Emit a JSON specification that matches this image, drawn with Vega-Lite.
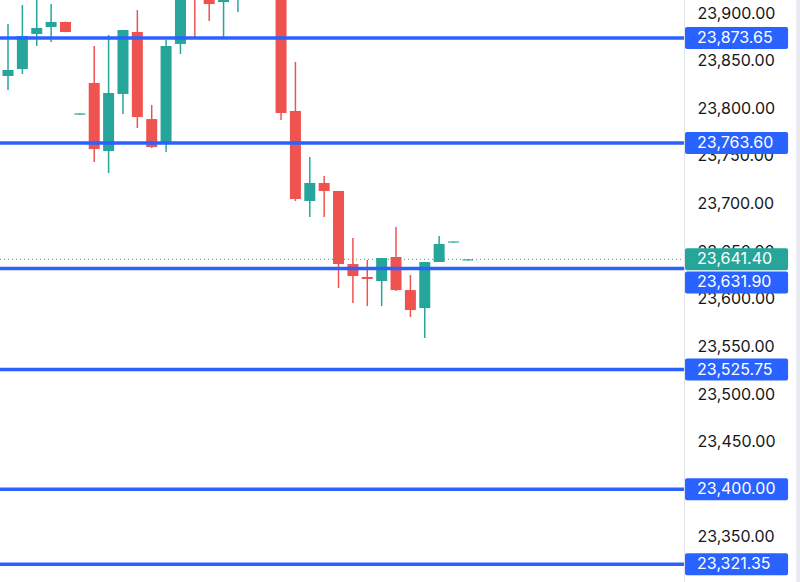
{
  "$schema": "https://vega.github.io/schema/vega-lite/v6.json",
  "width": 800,
  "height": 582,
  "padding": 0,
  "autosize": {"type": "none"},
  "background": "#ffffff",
  "config": {"view": {"stroke": null}},
  "datasets": {
    "candles": [
      {"i": 0, "open": 23833.9, "high": 23888.5, "low": 23819.2, "close": 23840.2},
      {"i": 1, "open": 23841.2, "high": 23908.4, "low": 23836.0, "close": 23875.9},
      {"i": 2, "open": 23878.0, "high": 23920.0, "low": 23865.4, "close": 23884.3},
      {"i": 3, "open": 23885.3, "high": 23909.4, "low": 23869.6, "close": 23890.6},
      {"i": 4, "open": 23890.6, "high": 23891.0, "low": 23879.8, "close": 23880.1},
      {"i": 5, "open": 23793.3, "high": 23794.6, "low": 23793.3, "close": 23794.6},
      {"i": 6, "open": 23826.5, "high": 23865.4, "low": 23743.6, "close": 23757.2},
      {"i": 7, "open": 23755.1, "high": 23876.9, "low": 23732.0, "close": 23816.0},
      {"i": 8, "open": 23815.0, "high": 23882.2, "low": 23794.0, "close": 23882.2},
      {"i": 9, "open": 23880.1, "high": 23903.1, "low": 23779.3, "close": 23790.8},
      {"i": 10, "open": 23788.7, "high": 23803.4, "low": 23758.3, "close": 23759.3},
      {"i": 11, "open": 23762.5, "high": 23871.7, "low": 23754.1, "close": 23865.4},
      {"i": 12, "open": 23867.5, "high": 23935.0, "low": 23857.0, "close": 23925.0},
      {"i": 13, "open": 23960.0, "high": 23970.0, "low": 23874.8, "close": 23925.0},
      {"i": 14, "open": 23940.0, "high": 23950.0, "low": 23891.6, "close": 23909.4},
      {"i": 15, "open": 23911.5, "high": 23950.0, "low": 23874.8, "close": 23940.0},
      {"i": 16, "open": 23925.0, "high": 23955.0, "low": 23901.0, "close": 23945.0},
      {"i": 17, "open": 23960.0, "high": 23970.0, "low": 23930.0, "close": 23945.0},
      {"i": 18, "open": 23945.0, "high": 23955.0, "low": 23920.0, "close": 23935.0},
      {"i": 19, "open": 23930.0, "high": 23940.0, "low": 23787.7, "close": 23795.0},
      {"i": 20, "open": 23797.1, "high": 23848.6, "low": 23702.7, "close": 23704.8},
      {"i": 21, "open": 23702.7, "high": 23748.8, "low": 23685.9, "close": 23721.6},
      {"i": 22, "open": 23721.6, "high": 23728.9, "low": 23685.9, "close": 23713.2},
      {"i": 23, "open": 23713.2, "high": 23713.2, "low": 23611.3, "close": 23636.5},
      {"i": 24, "open": 23636.5, "high": 23663.8, "low": 23595.6, "close": 23623.9},
      {"i": 25, "open": 23622.9, "high": 23640.7, "low": 23592.4, "close": 23620.8},
      {"i": 26, "open": 23618.7, "high": 23642.8, "low": 23592.4, "close": 23642.8},
      {"i": 27, "open": 23643.9, "high": 23675.4, "low": 23608.2, "close": 23609.2},
      {"i": 28, "open": 23609.2, "high": 23625.0, "low": 23580.9, "close": 23588.2},
      {"i": 29, "open": 23590.3, "high": 23638.6, "low": 23558.9, "close": 23638.6},
      {"i": 30, "open": 23638.6, "high": 23665.9, "low": 23638.6, "close": 23657.5},
      {"i": 31, "open": 23659.0, "high": 23660.2, "low": 23659.0, "close": 23660.2},
      {"i": 32, "open": 23640.2, "high": 23641.4, "low": 23640.2, "close": 23641.4}
    ],
    "levels": [
      {"price": 23873.65},
      {"price": 23763.60},
      {"price": 23631.90},
      {"price": 23525.75},
      {"price": 23400.00},
      {"price": 23321.35}
    ],
    "last": [
      {"price": 23641.40}
    ],
    "frame": [
      {"top": 23913.65, "bottom": 23302.75}
    ]
  },
  "layer": [
    {
      "data": {"name": "candles"},
      "mark": {"type": "rule", "strokeWidth": 1.5, "clip": true},
      "encoding": {
        "x": {"field": "i", "type": "quantitative", "scale": {"domain": [-0.557, 55.11], "nice": false, "zero": false, "padding": 0}, "axis": null},
        "y": {"field": "low", "type": "quantitative", "scale": {"domain": [23302.75, 23913.65], "nice": false, "zero": false, "padding": 0},
          "axis": {"orient": "right", "offset": -116, "values": [23300, 23350, 23400, 23450, 23500, 23550, 23600, 23650, 23700, 23750, 23800, 23850, 23900],
            "format": ",.2f", "title": null, "grid": false, "ticks": false, "domain": true, "domainColor": "#e0e3eb", "domainWidth": 1,
            "labelPadding": 13, "labelAlign": "left", "labelFont": "Inter", "labelFontSize": 16, "labelColor": "#131722",
            "labelBound": false, "labelFlush": false, "labelOverlap": false}},
        "y2": {"field": "high"},
        "color": {"condition": {"test": "datum.close >= datum.open", "value": "#26a69a"}, "value": "#ef5350"}
      }
    },
    {
      "data": {"name": "candles"},
      "mark": {"type": "bar", "width": 11, "clip": true},
      "encoding": {
        "x": {"field": "i", "type": "quantitative"},
        "y": {"field": "open", "type": "quantitative"},
        "y2": {"field": "close"},
        "color": {"condition": {"test": "datum.close >= datum.open", "value": "#26a69a"}, "value": "#ef5350"}
      }
    },
    {
      "data": {"name": "frame"},
      "mark": {"type": "rect", "color": "#e8eaf0"},
      "encoding": {
        "y": {"field": "top", "type": "quantitative"},
        "y2": {"field": "bottom"},
        "x": {"datum": 54.85},
        "x2": {"datum": 55.11}
      }
    },
    {
      "data": {"name": "last"},
      "mark": {"type": "rule", "strokeWidth": 1, "strokeDash": [1, 3], "color": "#26a69a"},
      "encoding": {
        "y": {"field": "price", "type": "quantitative"},
        "x": {"datum": -0.557},
        "x2": {"datum": 47.04}
      }
    },
    {
      "data": {"name": "levels"},
      "mark": {"type": "rule", "strokeWidth": 3.5, "color": "#2962ff"},
      "encoding": {
        "y": {"field": "price", "type": "quantitative"},
        "x": {"datum": -0.557},
        "x2": {"datum": 47.04}
      }
    },
    {
      "data": {"name": "last"},
      "mark": {"type": "bar", "height": 22, "orient": "horizontal", "color": "#26a69a", "cornerRadius": 2},
      "encoding": {
        "y": {"field": "price", "type": "quantitative"},
        "x": {"datum": 47.11},
        "x2": {"datum": 54.28}
      }
    },
    {
      "data": {"name": "levels"},
      "transform": [{"filter": "datum.price != 23631.9"}],
      "mark": {"type": "bar", "height": 22, "orient": "horizontal", "color": "#2962ff", "cornerRadius": 2},
      "encoding": {
        "y": {"field": "price", "type": "quantitative"},
        "x": {"datum": 47.11},
        "x2": {"datum": 54.28}
      }
    },
    {
      "data": {"name": "levels"},
      "transform": [{"filter": "datum.price == 23631.9"}],
      "mark": {"type": "bar", "height": 22, "orient": "horizontal", "color": "#2962ff", "cornerRadius": 2, "yOffset": 14},
      "encoding": {
        "y": {"field": "price", "type": "quantitative"},
        "x": {"datum": 47.11},
        "x2": {"datum": 54.28}
      }
    },
    {
      "data": {"name": "last"},
      "mark": {"type": "text", "align": "left", "baseline": "middle", "font": "Inter", "fontSize": 16, "color": "#ffffff"},
      "encoding": {
        "y": {"field": "price", "type": "quantitative"},
        "x": {"datum": 47.95},
        "text": {"field": "price", "type": "quantitative", "format": ",.2f"}
      }
    },
    {
      "data": {"name": "levels"},
      "transform": [{"filter": "datum.price != 23631.9"}],
      "mark": {"type": "text", "align": "left", "baseline": "middle", "font": "Inter", "fontSize": 16, "color": "#ffffff"},
      "encoding": {
        "y": {"field": "price", "type": "quantitative"},
        "x": {"datum": 47.95},
        "text": {"field": "price", "type": "quantitative", "format": ",.2f"}
      }
    },
    {
      "data": {"name": "levels"},
      "transform": [{"filter": "datum.price == 23631.9"}],
      "mark": {"type": "text", "align": "left", "baseline": "middle", "font": "Inter", "fontSize": 16, "color": "#ffffff", "yOffset": 14},
      "encoding": {
        "y": {"field": "price", "type": "quantitative"},
        "x": {"datum": 47.95},
        "text": {"field": "price", "type": "quantitative", "format": ",.2f"}
      }
    }
  ]
}
